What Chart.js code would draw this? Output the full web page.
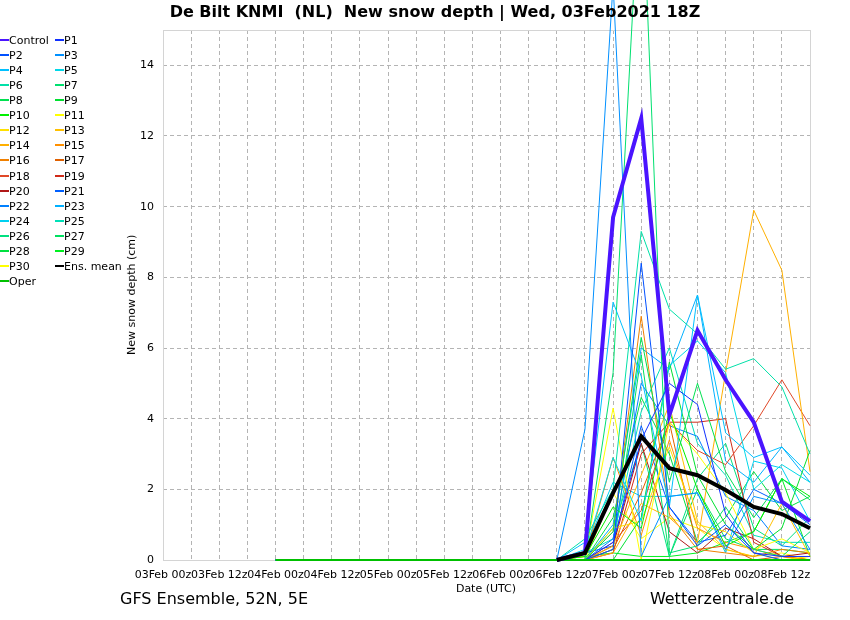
<!DOCTYPE html>
<html>
<head>
<meta charset="utf-8">
<title>De Bilt KNMI - New snow depth</title>
<script src="https://cdn.jsdelivr.net/npm/chart.js@4.4.1/dist/chart.umd.min.js"></script>
<style>
  body { margin: 0; background: #fff; font-family: "DejaVu Sans", sans-serif; }
  #wrap { position: relative; width: 850px; height: 620px; overflow: hidden; }
  #chart { position: absolute; left: 0; top: 0; }
  .txt { position: absolute; white-space: pre; color: #000; }
  #title { left: 0; width: 870px; top: 2px; text-align: center; font-weight: bold; font-size: 16px; }
  #xTitle { left: 386px; width: 200px; top: 582px; text-align: center; font-size: 11px; }
  #yTitle { left: 125px; top: 195px; height: 200px; text-align: center; font-size: 11px;
            writing-mode: vertical-rl; transform: rotate(180deg); }
  #footLeft { left: 120px; top: 589px; font-size: 16px; }
  #footRight { right: 56px; top: 589px; font-size: 16px; }
  .leg { position: absolute; font-size: 11px; line-height: 14px; height: 14px; white-space: pre; }
  .leg i { display: inline-block; width: 9px; height: 2px; vertical-align: middle; position: relative; top: -1px; }
</style>
</head>
<body>
<div id="wrap">
  <canvas id="chart" width="850" height="620"></canvas>
  <div class="txt" id="title">De Bilt KNMI  (NL)  New snow depth | Wed, 03Feb2021 18Z</div>
  <div class="txt" id="xTitle">Date (UTC)</div>
  <div class="txt" id="yTitle">New snow depth (cm)</div>
  <div class="txt" id="footLeft">GFS Ensemble, 52N, 5E</div>
  <div class="txt" id="footRight">Wetterzentrale.de</div>
  <div id="legend"></div>
</div>
<script>
// time axis, every 6 hours (labels shown every 12 hours)
const timeLabels = [
  "03Feb 00z", "03Feb 06z", "03Feb 12z", "03Feb 18z",
  "04Feb 00z", "04Feb 06z", "04Feb 12z", "04Feb 18z",
  "05Feb 00z", "05Feb 06z", "05Feb 12z", "05Feb 18z",
  "06Feb 00z", "06Feb 06z", "06Feb 12z", "06Feb 18z",
  "07Feb 00z", "07Feb 06z", "07Feb 12z", "07Feb 18z",
  "08Feb 00z", "08Feb 06z", "08Feb 12z", "08Feb 18z"
];
// series start at 04Feb 00z (20 values each); control and mean only show from 06Feb 12z
const control = [null,null,null,null,null,null,null,null,null,null, 0, 0.2, 9.7, 12.5, 4.1, 6.5, 5.1, 3.9, 1.65, 1.1];
const p1  = [0,0,0,0,0,0,0,0,0,0,0, 0, 0.5, 3.4, 5.0, 4.4, 1.3, 0.2, 0.1, 0.1];
const p2  = [0,0,0,0,0,0,0,0,0,0,0, 0, 0.3, 8.4, 1.5, 0.4, 1.0, 0.2, 0, 0];
const p3  = [0,0,0,0,0,0,0,0,0,0,0, 3.7, 16.3, 0.1, 1.8, 1.9, 0.3, 1.8, 1.6, 0.3];
const p4  = [0,0,0,0,0,0,0,0,0,0,0, 0.5, 7.3, 5.2, 1.5, 7.5, 3.6, 2.9, 3.2, 2.4];
const p5  = [0,0,0,0,0,0,0,0,0,0,0, 0.2, 2.9, 1.1, 5.5, 6.2, 5.3, 2.0, 2.7, 2.2];
const p6  = [0,0,0,0,0,0,0,0,0,0,0, 0.6, 2.0, 9.3, 7.1, 6.4, 5.4, 5.7, 4.9, 3.0];
const p7  = [0,0,0,0,0,0,0,0,0,0,0, 0, 5.3, 20.0, 0.2, 0.4, 1.5, 0.3, 0.1, 0.8];
const p8  = [0,0,0,0,0,0,0,0,0,0,0, 0, 0.8, 6.3, 2.2, 5.0, 2.5, 1.2, 2.3, 1.7];
const p9  = [0,0,0,0,0,0,0,0,0,0,0, 0, 0, 1.2, 5.6, 2.4, 1.0, 0.3, 0.9, 3.1];
const p10 = [0,0,0,0,0,0,0,0,0,0,0, 0.1, 1.5, 0.9, 4.2, 2.0, 0.4, 0.8, 2.3, 1.8];
const p11 = [0,0,0,0,0,0,0,0,0,0,0, 0.1, 4.3, 0, 3.9, 3.0, 1.9, 0.3, 0.6, 0.2];
const p12 = [0,0,0,0,0,0,0,0,0,0,0, 0, 0.9, 1.1, 3.2, 1.0, 0.8, 0.2, 0, 0.1];
const p13 = [0,0,0,0,0,0,0,0,0,0,0, 0, 0.4, 2.4, 4.4, 1.1, 0.3, 0.1, 1.6, 0.1];
const p14 = [0,0,0,0,0,0,0,0,0,0,0, 0, 0.2, 1.6, 1.2, 0.5, 5.3, 9.9, 8.2, 2.5];
const p15 = [0,0,0,0,0,0,0,0,0,0,0, 0.1, 2.9, 0.7, 3.4, 0.9, 0.5, 0.3, 0.1, 0];
const p16 = [0,0,0,0,0,0,0,0,0,0,0, 0, 0.8, 6.9, 1.3, 0.3, 0.2, 0.1, 0.3, 0.2];
const p17 = [0,0,0,0,0,0,0,0,0,0,0, 0, 0.3, 1.9, 3.9, 0.3, 0.4, 0, 0.1, 0];
const p18 = [0,0,0,0,0,0,0,0,0,0,0, 0, 0.5, 1.4, 3.9, 3.1, 2.7, 3.8, 5.1, 3.8];
const p19 = [0,0,0,0,0,0,0,0,0,0,0, 0, 0.2, 3.0, 3.9, 3.9, 4.0, 0.5, 0.1, 0];
const p20 = [0,0,0,0,0,0,0,0,0,0,0, 0, 0.4, 3.3, 0.8, 0.2, 0.9, 0.6, 0.1, 0.2];
const p21 = [0,0,0,0,0,0,0,0,0,0,0, 0.2, 0.4, 3.8, 1.5, 0.5, 0.7, 2.0, 1.6, 1.0];
const p22 = [0,0,0,0,0,0,0,0,0,0,0, 0, 0.6, 5.0, 3.8, 3.5, 1.8, 1.4, 0.4, 0.3];
const p23 = [0,0,0,0,0,0,0,0,0,0,0, 0, 1.0, 6.0, 5.4, 7.5, 2.8, 2.2, 3.2, 2.2];
const p24 = [0,0,0,0,0,0,0,0,0,0,0, 0.3, 2.2, 1.8, 1.8, 1.9, 0.2, 2.8, 2.6, 1.1];
const p25 = [0,0,0,0,0,0,0,0,0,0,0, 0.2, 0.6, 4.2, 6.0, 3.3, 2.4, 0.7, 0.5, 0.5];
const p26 = [0,0,0,0,0,0,0,0,0,0,0, 0, 0.9, 3.3, 0.1, 2.3, 3.3, 0.9, 0.4, 1.2];
const p27 = [0,0,0,0,0,0,0,0,0,0,0, 0, 0.3, 5.8, 0.1, 2.0, 0.6, 0.3, 0.3, 0.2];
const p28 = [0,0,0,0,0,0,0,0,0,0,0, 0, 1.2, 4.6, 3.0, 0.5, 1.2, 2.5, 1.4, 1.8];
const p29 = [0,0,0,0,0,0,0,0,0,0,0, 0.1, 0.2, 0.1, 0.1, 0.2, 0.5, 0.8, 2.3, 0.1];
const p30 = [0,0,0,0,0,0,0,0,0,0,0, 0, 1.9, 0.6, 1.2, 0.9, 0.3, 0.1, 0.2, 0];
const ensMean = [null,null,null,null,null,null,null,null,null,null, 0, 0.2, 1.9, 3.5, 2.6, 2.4, 1.98, 1.5, 1.3, 0.9];
const oper = [0,0,0,0,0,0,0,0,0,0,0, 0, 0, 0, 0, 0, 0, 0, 0, 0];
const yTicks = [0, 2, 4, 6, 8, 10, 12, 14];

const members = [p1,p2,p3,p4,p5,p6,p7,p8,p9,p10,p11,p12,p13,p14,p15,
                 p16,p17,p18,p19,p20,p21,p22,p23,p24,p25,p26,p27,p28,p29,p30];
const memberColors = [
  "#1030ff", "#0050ff", "#0090ff", "#00c0ff", "#00d8e8", "#00e0a8", "#00e070", "#00e050",
  "#00e030", "#00f000", "#ffff00", "#ffe000", "#ffc000", "#ffb000", "#ff9000", "#f08000",
  "#e06000", "#e04828", "#d02a18", "#b01818", "#0060ff", "#0080ff", "#00b0ff", "#00d0f0",
  "#00e0b8", "#00e080", "#00e060", "#00e040", "#00f020", "#ffff00"
];

const lead = [null, null, null, null]; // nothing before 04Feb 00z
const series = (vals) => lead.concat(vals);

const datasets = [];
datasets.push({ label: "Control", data: series(control), borderColor: "#4a14ff", borderWidth: 4, order: 1 });
members.forEach((m, i) => {
  datasets.push({ label: "P" + (i + 1), data: series(m), borderColor: memberColors[i], borderWidth: 1, order: 3 });
});
datasets.push({ label: "Ens. mean", data: series(ensMean), borderColor: "#000000", borderWidth: 4, order: 0 });
datasets.push({ label: "Oper", data: series(oper), borderColor: "#00c000", borderWidth: 2, order: 2 });
datasets.forEach(d => { d.pointRadius = 0; d.tension = 0; d.fill = false; d.clip = false; });

const plotBox = {
  id: "plotBox",
  beforeDatasetsDraw(chart) {
    const a = chart.chartArea, ctx = chart.ctx;
    ctx.save();
    ctx.strokeStyle = "#d4d4d4";
    ctx.lineWidth = 1;
    ctx.strokeRect(a.left + 0.5, a.top + 0.5, a.right - a.left, a.bottom - a.top);
    ctx.restore();
  }
};

Chart.defaults.font.family = "'DejaVu Sans', sans-serif";
Chart.defaults.font.size = 11;
Chart.defaults.color = "#000";

const chart = new Chart(document.getElementById("chart"), {
  type: "line",
  data: { labels: timeLabels, datasets: datasets },
  options: {
    responsive: false,
    animation: false,
    layout: { padding: { left: 0, top: 30, right: 40, bottom: 0 } },
    plugins: { legend: { display: false }, tooltip: { enabled: false }, title: { display: false } },
    scales: {
      x: {
        offset: false,
        afterFit(scale) { scale.height = 60; },
        grid: { color: "#b4b4b4", drawTicks: false },
        border: { display: false, dash: [4, 3] },
        ticks: {
          autoSkip: false, maxRotation: 0, padding: 9,
          callback(v, i) { return i % 2 === 0 ? timeLabels[i] : ""; }
        }
      },
      y: {
        min: 0, max: 15,
        afterFit(scale) { scale.width = 163; },
        afterBuildTicks(scale) { scale.ticks = yTicks.map(v => ({ value: v })); },
        grid: { color: "#b4b4b4", drawTicks: false },
        border: { display: false, dash: [4, 3] },
        ticks: { padding: 9 }
      }
    }
  },
  plugins: [plotBox]
});

// legend, two columns, row by row
const legend = document.getElementById("legend");
datasets.forEach((d, i) => {
  const el = document.createElement("div");
  el.className = "leg";
  el.style.left = (i % 2 === 0 ? 0 : 55) + "px";
  el.style.top = Math.round(34 + Math.floor(i / 2) * 15.06) + "px";
  el.innerHTML = '<i style="background:' + d.borderColor + '"></i>' + d.label;
  legend.appendChild(el);
});
</script>
</body>
</html>
